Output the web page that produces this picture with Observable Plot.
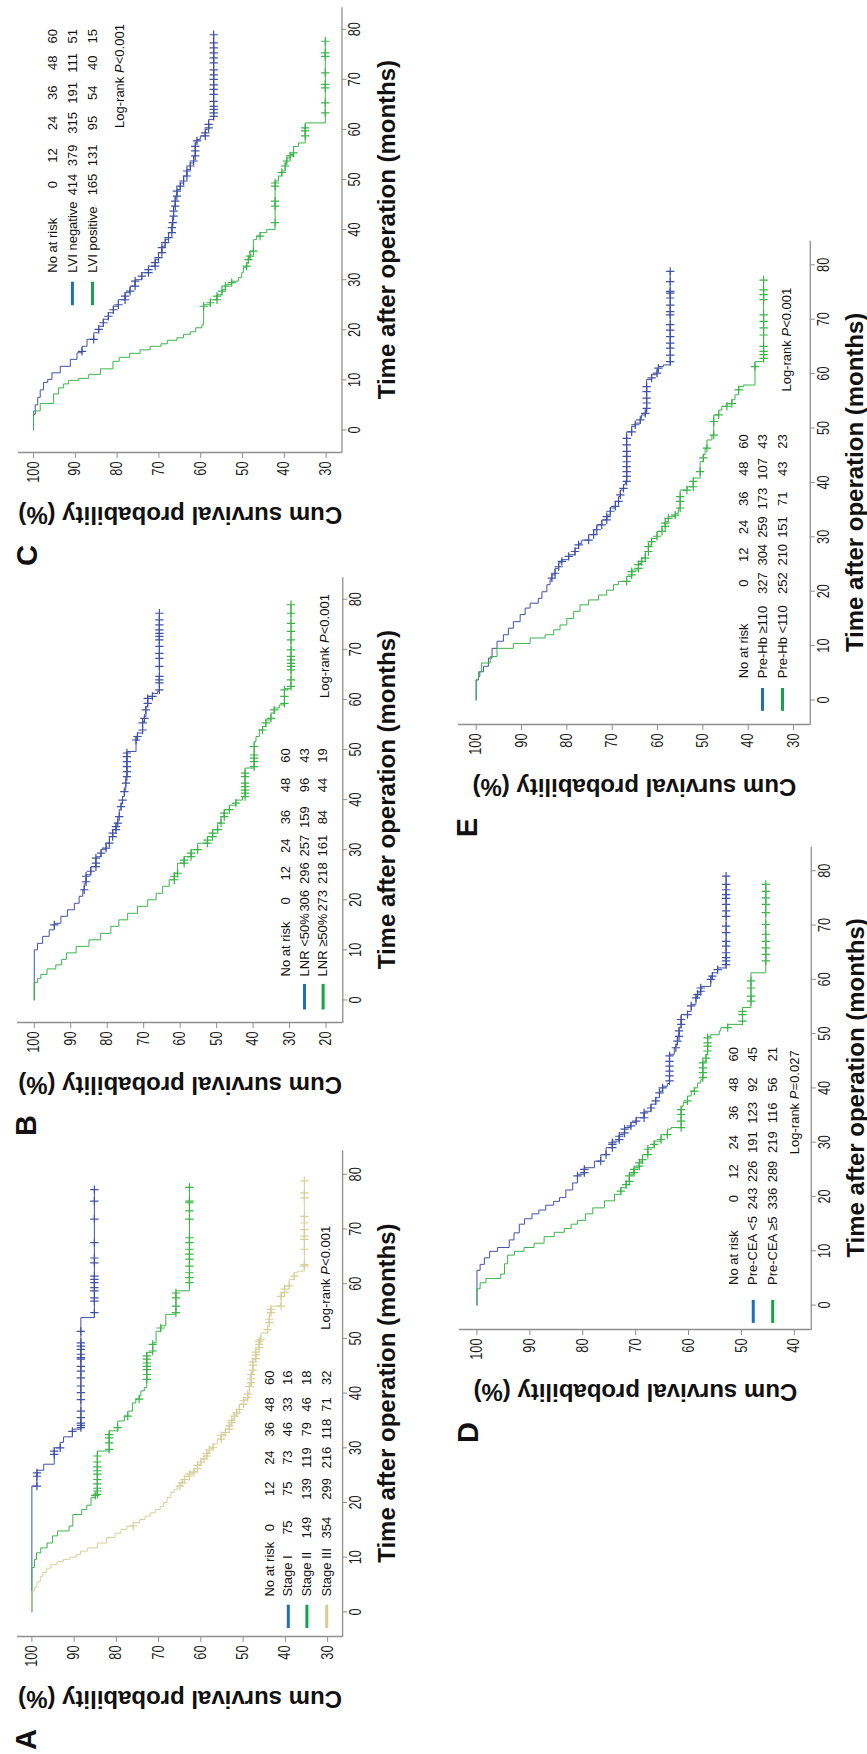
<!DOCTYPE html>
<html>
<head>
<meta charset="utf-8">
<script src="https://cdn.jsdelivr.net/npm/d3@7"></script>
<script src="https://cdn.jsdelivr.net/npm/@observablehq/plot@0.6"></script>
<style>
  html, body { margin: 0; padding: 0; background: #fff; }
  body { width: 867px; height: 1754px; overflow: hidden; position: relative; }
  /* the figure is laid out landscape and turned a quarter turn counter-clockwise */
  #sheet { position: absolute; left: 0; top: 0; width: 1754px; height: 867px;
           transform-origin: 0 0; transform: translate(0, 1754px) rotate(-90deg); }
  #sheet svg { position: absolute; overflow: visible; }
</style>
</head>
<body>
<div id="sheet"></div>
<script>
// ---------- shared axis ticks and number-at-risk months ----------
const monthTicks = [0, 10, 20, 30, 40, 50, 60, 70, 80];
const atRiskMonths = ["0", "12", "24", "36", "48", "60"];

// ---------- A: TNM stage ----------
const stageGroups = ["Stage I", "Stage II", "Stage III"];
const stageAtRisk = [[75, 75, 73, 46, 33, 16], [149, 139, 119, 79, 46, 18], [354, 299, 216, 118, 71, 32]];
const stageISteps = [[0,100],[23.0,98.8],[25.9,97.2],[27.0,94.7],[30.0,93.3],[31.0,92.5],[32.0,90.4],[33.4,88.4],[53.8,85.2],[77.2,85.2]];
const stageICensored = [23.0,24.8,25.4,28.8,29.4,30.0,33.0,33.7,34.1,34.5,35.5,36.7,38.8,40.1,41.3,42.8,44.0,44.9,46.2,46.5,47.1,48.0,48.6,49.2,51.3,54.7,56.8,57.4,58.7,59.3,60.2,60.8,61.4,63.8,64.7,67.5,71.8,75.1,77.2];
const stageIISteps = [[0,100],[8.1,99.4],[9.6,98.9],[10.8,97.9],[11.7,96.4],[12.6,95.1],[13.9,93.9],[14.8,91.2],[15.7,90.3],[17.8,88.2],[18.7,87.0],[19.5,86.0],[20.9,85.0],[21.5,84.5],[29.4,81.7],[33.1,79.7],[34.9,78.1],[35.8,77.3],[36.7,76.2],[38.2,75.4],[38.9,74.6],[39.5,74.2],[40.4,73.4],[41.0,72.8],[47.4,71.4],[49.2,70.6],[51.3,69.5],[52.3,68.3],[54.4,65.9],[58.7,62.7],[77.6,62.7]];
const stageIICensored = [21.3,21.5,22.1,22.6,23.4,24.2,25.2,25.8,26.5,27.4,28.5,29.7,30.9,31.8,32.4,33.7,35.8,38.9,42.5,43.4,44.3,44.9,45.5,46.2,46.8,47.7,48.9,51.9,54.7,55.9,57.4,58.3,60.2,61.1,62.0,63.2,64.5,65.4,66.3,67.5,68.4,71.8,73.3,74.8,75.1,77.6];
const stageIIISteps = [[0,100],[3.8,99.4],[4.5,98.8],[5.5,98.0],[6.5,97.4],[7.2,96.5],[8.0,95.5],[8.7,94.0],[9.2,92.5],[9.6,91.0],[10.0,89.5],[10.5,88.5],[11.1,86.8],[11.7,84.5],[12.6,82.3],[13.6,80.3],[14.4,78.9],[15.1,77.5],[15.7,76.0],[16.3,74.5],[16.9,73.2],[17.5,72.0],[18.1,70.8],[18.7,69.6],[19.3,68.8],[20.0,68.0],[20.9,67.1],[21.8,66.3],[22.4,65.6],[23.0,65.0],[23.6,64.4],[24.2,63.9],[24.8,62.7],[25.4,61.6],[26.2,60.8],[27.0,60.0],[27.9,59.2],[28.5,58.6],[29.1,58.0],[29.9,57.1],[30.7,56.1],[31.5,55.2],[32.4,54.2],[33.4,53.3],[34.3,52.7],[35.2,52.1],[36.1,51.5],[37.0,50.9],[37.9,49.9],[38.8,48.9],[40.0,48.5],[41.3,48.1],[43.7,47.7],[46.2,47.0],[48.0,46.2],[49.8,45.8],[51.0,44.2],[52.3,43.8],[54.7,43.4],[55.9,41.0],[58.3,40.2],[59.6,39.1],[60.8,37.9],[62.0,37.1],[62.3,35.5],[78.8,35.5]];
const stageIIICensored = [15.7,23.0,23.6,24.2,24.8,25.2,25.6,26.2,26.8,27.4,28.0,28.5,29.0,29.6,30.1,31.6,32.2,32.8,33.4,34.0,34.6,35.0,35.8,36.4,37.0,38.0,38.6,39.2,39.8,41.2,41.9,42.6,43.4,44.2,45.1,45.7,46.3,47.0,47.5,48.3,48.9,49.5,49.8,51.6,52.9,53.5,54.7,55.3,55.9,57.7,58.4,59.0,59.6,61.4,63.2,63.5,66.3,68.1,68.7,69.9,71.1,72.3,75.7,76.6,78.8];

// ---------- B: lymph node ratio ----------
const lnrGroups = ["LNR <50%", "LNR \u226550%"];
const lnrAtRisk = [[306, 296, 257, 159, 96, 43], [273, 218, 161, 84, 44, 19]];
const lnrLowSteps = [[0,100],[10.0,99.1],[11.3,97.7],[12.7,95.9],[14.0,94.5],[15.3,92.7],[16.7,90.9],[18.0,89.0],[19.3,87.7],[20.7,86.7],[22.0,86.3],[23.3,85.8],[25.0,84.5],[26.6,83.1],[28.6,81.7],[30.0,80.3],[31.3,79.4],[32.6,78.5],[34.0,77.6],[35.3,77.1],[36.6,76.7],[38.0,76.2],[39.3,75.8],[40.6,75.3],[41.9,74.9],[44.6,74.6],[49.6,72.1],[52.6,71.7],[53.3,70.3],[55.6,69.8],[56.6,69.4],[58.6,68.9],[60.6,67.6],[61.2,66.2],[61.6,65.7],[77.2,65.7]];
const lnrLowCensored = [15.0,22.0,23.6,24.7,25.7,26.6,27.3,28.3,29.3,30.3,31.3,32.6,33.3,34.0,34.6,35.3,36.6,38.6,39.9,41.6,43.3,44.6,45.6,46.6,47.6,48.6,49.3,51.9,52.6,53.9,55.3,56.2,57.9,59.2,60.2,60.6,61.9,63.3,63.9,64.6,66.6,68.2,69.2,70.6,71.9,72.6,73.2,73.9,74.9,75.9,77.2];
const lnrHighSteps = [[0,100],[3.5,99.1],[4.3,98.2],[5.1,96.5],[6.2,94.1],[7.0,92.5],[8.1,91.2],[9.4,88.5],[10.7,85.0],[12.0,81.8],[13.3,79.0],[14.7,76.8],[16.0,74.4],[17.3,71.7],[18.7,68.9],[20.0,66.6],[21.3,64.8],[22.7,63.0],[24.0,61.6],[25.3,60.7],[27.3,58.9],[28.6,57.0],[30.0,55.2],[31.3,52.5],[32.6,51.1],[34.0,49.7],[35.3,48.8],[36.6,47.9],[38.0,46.5],[38.9,44.7],[39.9,42.9],[40.6,42.2],[46.3,39.7],[51.6,39.2],[52.6,38.3],[53.9,37.4],[54.6,36.5],[55.9,35.1],[57.3,34.2],[58.3,32.8],[58.9,31.4],[62.2,29.6],[78.9,29.6]];
const lnrHighCensored = [24.0,24.7,25.3,27.3,27.9,28.6,29.3,30.0,31.3,31.9,32.6,33.3,34.0,35.3,36.6,37.3,38.0,39.3,40.6,41.3,41.9,42.6,43.3,44.6,45.3,46.6,47.6,48.3,48.9,50.6,53.9,55.3,56.2,57.9,59.2,60.6,61.9,62.6,63.9,65.9,66.6,67.2,67.9,68.6,69.9,71.9,73.6,75.2,77.2,78.9];

// ---------- C: lymphovascular invasion ----------
const lviGroups = ["LVI negative", "LVI positive"];
const lviAtRisk = [[414, 379, 315, 191, 111, 51], [165, 131, 95, 54, 40, 15]];
const lviNegSteps = [[0,100],[3.1,99.6],[5.0,99.0],[6.5,98.4],[8.0,97.6],[9.5,96.6],[10.1,95.6],[11.4,93.6],[12.7,91.2],[14.1,89.6],[15.4,88.4],[16.7,87.2],[18.1,85.6],[19.4,84.4],[20.7,83.3],[22.1,82.1],[23.4,80.9],[24.7,79.7],[26.0,78.1],[27.4,76.9],[28.7,75.7],[30.0,74.1],[31.4,72.5],[32.7,70.9],[34.0,70.1],[35.4,69.3],[36.7,68.5],[38.0,67.7],[39.4,66.9],[40.7,66.7],[42.7,66.5],[44.7,66.1],[46.7,65.7],[48.0,64.9],[49.3,64.1],[50.7,63.3],[52.0,62.5],[53.3,61.7],[54.7,61.3],[57.3,60.9],[58.0,60.1],[58.7,58.9],[60.0,58.1],[62.0,56.9],[78.9,56.9]];
const lviNegCensored = [15.7,18.1,20.1,21.4,22.7,24.0,25.0,26.0,26.7,27.7,28.7,29.7,30.7,31.4,32.0,32.7,33.4,34.4,35.4,36.4,37.4,38.4,39.4,40.4,41.4,42.7,43.7,44.7,45.7,46.7,47.7,48.7,49.7,50.7,51.7,52.7,53.7,54.7,55.7,56.6,57.7,58.7,59.3,60.3,61.0,62.6,63.3,64.0,64.6,65.6,67.0,68.0,68.9,70.0,70.9,71.9,73.3,74.3,75.3,76.3,77.3,78.9];
const lviPosSteps = [[0,100],[3.8,98.4],[5.3,95.2],[7.2,94.0],[8.4,92.8],[9.2,91.6],[9.9,89.2],[10.3,86.8],[11.1,84.0],[12.2,81.0],[13.7,79.5],[14.5,77.0],[15.3,74.5],[16.0,72.1],[16.7,69.5],[17.2,68.0],[17.9,65.7],[18.4,64.1],[19.1,62.5],[19.6,61.2],[20.4,59.7],[21.0,59.3],[25.0,57.7],[26.0,56.1],[27.0,54.9],[28.0,54.1],[29.0,52.6],[29.7,51.0],[30.4,50.2],[31.4,49.8],[32.4,49.0],[33.4,48.6],[34.4,48.2],[35.7,47.4],[38.0,46.6],[38.7,45.8],[39.4,44.2],[40.0,42.2],[49.7,41.4],[50.7,40.6],[51.7,39.8],[53.3,39.4],[54.3,38.6],[55.0,37.8],[56.6,36.6],[57.3,35.0],[61.3,30.2],[77.6,30.2]];
const lviPosCensored = [24.7,25.4,26.0,26.7,27.7,28.7,29.4,32.7,34.0,34.7,35.7,38.7,41.4,44.7,45.7,48.7,49.3,51.4,52.7,53.7,54.7,55.3,58.7,59.7,60.3,63.3,65.3,68.3,69.0,71.3,74.6,75.3,77.6];

// ---------- D: preoperative CEA ----------
const ceaGroups = ["Pre-CEA <5", "Pre-CEA \u22655"];
const ceaAtRisk = [[243, 226, 191, 123, 92, 45], [336, 289, 219, 116, 56, 21]];
const ceaLowSteps = [[0,100],[6.4,99.4],[7.5,98.6],[8.7,97.6],[9.9,96.1],[10.6,93.9],[12.0,93.0],[13.3,92.0],[14.9,91.0],[15.9,89.6],[16.8,88.3],[17.5,87.0],[18.4,85.5],[19.1,84.4],[19.8,83.2],[21.2,81.9],[22.5,81.0],[24.1,79.7],[25.3,77.8],[26.5,76.6],[27.7,75.6],[29.0,74.4],[30.2,73.1],[31.4,72.1],[32.7,70.9],[33.6,69.9],[34.5,68.4],[35.7,67.1],[37.0,66.2],[38.2,65.5],[39.4,64.9],[40.3,64.0],[40.8,63.6],[46.2,62.7],[47.4,62.4],[48.0,62.1],[49.5,61.8],[51.1,61.4],[53.5,60.2],[54.1,59.5],[55.4,58.6],[56.9,58.3],[57.5,57.7],[58.7,55.8],[60.3,55.5],[61.2,54.5],[62.1,52.9],[79.0,52.9]];
const ceaLowCensored = [23.8,24.4,25.0,26.5,27.7,29.0,29.6,29.9,30.5,31.1,31.7,32.4,33.0,33.9,34.5,35.4,36.3,37.6,39.1,40.0,41.3,42.2,43.1,44.0,44.9,45.9,47.4,48.6,49.5,50.5,51.7,52.6,53.5,55.1,56.6,57.2,57.8,58.4,60.0,60.6,61.8,62.7,63.4,64.0,64.9,66.1,67.0,68.6,69.8,71.6,72.6,73.8,74.9,75.6,76.5,77.5,79.0];
const ceaHighSteps = [[0,100],[3.0,99.4],[4.1,98.3],[4.9,95.5],[5.7,94.8],[7.6,94.2],[9.2,92.9],[9.9,91.1],[10.6,89.2],[11.4,87.3],[12.6,85.4],[13.4,83.5],[14.1,82.2],[14.9,81.0],[15.6,79.5],[16.8,78.1],[17.9,75.9],[19.2,74.0],[20.4,72.8],[21.6,71.8],[22.8,71.2],[24.1,70.3],[25.3,69.3],[26.5,68.7],[27.7,67.7],[29.0,66.5],[30.2,65.2],[31.4,64.0],[32.4,63.3],[32.7,61.4],[36.6,61.0],[37.3,60.2],[38.5,59.5],[39.4,58.9],[40.0,58.3],[40.9,57.7],[41.5,57.3],[44.9,56.7],[46.2,56.4],[49.5,55.8],[49.8,54.2],[50.5,53.9],[51.1,52.6],[51.7,49.8],[54.8,48.2],[61.2,45.4],[77.5,45.4]];
const ceaHighCensored = [21.0,22.2,22.8,23.8,24.4,25.0,25.6,26.2,26.8,27.7,28.7,29.6,30.5,31.4,32.7,33.9,35.1,36.0,37.6,39.4,41.9,42.8,43.7,44.6,45.5,46.8,47.7,48.3,49.2,51.1,52.3,53.5,54.1,56.0,56.9,58.4,59.7,63.4,64.6,65.8,67.0,68.3,70.1,72.3,73.8,75.0,76.2,77.5];

// ---------- E: preoperative haemoglobin ----------
const hbGroups = ["Pre-Hb \u2265110", "Pre-Hb <110"];
const hbAtRisk = [[327, 304, 259, 173, 107, 43], [252, 210, 151, 71, 43, 23]];
const hbHighSteps = [[0,100],[3.7,99.5],[4.3,99.2],[5.2,98.4],[6.2,97.3],[7.7,96.5],[9.5,95.4],[10.8,94.0],[12.0,92.9],[13.2,91.8],[14.4,90.3],[15.7,89.2],[16.9,88.1],[17.8,86.3],[18.7,85.5],[19.9,84.4],[21.2,83.7],[22.1,83.3],[23.0,82.6],[24.2,81.8],[25.2,81.1],[25.8,79.6],[26.7,78.2],[27.9,77.4],[28.8,76.7],[29.4,75.2],[30.4,74.1],[31.3,73.4],[32.2,72.3],[33.1,71.2],[34.0,70.4],[35.3,69.3],[36.5,68.6],[37.4,68.2],[38.6,67.5],[39.6,67.1],[40.2,66.8],[49.3,65.7],[50.3,64.9],[50.9,63.8],[51.8,63.5],[52.4,62.7],[53.0,62.4],[58.9,61.3],[59.8,60.1],[60.7,59.8],[61.3,58.7],[61.6,57.2],[78.8,57.2]];
const hbHighCensored = [22.4,23.3,24.5,25.5,26.4,27.3,28.5,29.4,30.4,31.3,32.2,33.1,33.7,34.7,35.6,36.5,37.7,38.9,40.2,41.1,42.0,42.9,43.8,44.8,45.7,46.9,48.1,49.3,50.6,51.5,52.7,53.6,54.6,55.5,56.7,57.6,59.2,60.1,61.0,62.2,63.4,64.7,65.6,66.8,68.0,69.0,70.8,71.4,72.6,73.9,74.8,75.1,76.9,78.8];
const hbLowSteps = [[0,100],[3.7,99.5],[5.2,98.8],[6.8,96.9],[8.0,95.4],[9.5,91.8],[10.4,88.1],[11.4,84.8],[12.0,82.9],[12.9,81.5],[13.8,80.0],[15.0,78.5],[16.3,77.1],[17.5,75.2],[18.4,73.0],[19.3,71.2],[20.2,69.7],[21.2,68.6],[21.8,66.8],[22.7,65.7],[23.9,64.2],[25.1,63.5],[26.1,62.7],[27.3,62.0],[28.5,61.3],[29.7,60.1],[31.0,59.0],[31.9,58.3],[32.8,57.6],[33.7,56.1],[34.3,55.4],[35.3,55.0],[38.6,53.5],[39.2,52.1],[40.8,50.6],[43.8,49.9],[45.1,49.5],[46.3,49.1],[47.8,48.0],[48.7,47.6],[52.4,46.5],[53.3,45.8],[54.0,44.7],[54.5,43.6],[55.2,42.9],[56.1,42.1],[57.6,41.0],[57.9,38.5],[62.2,36.6],[77.2,36.6]];
const hbLowCensored = [21.8,23.0,23.6,24.2,24.9,25.5,26.1,27.3,28.2,29.1,30.1,31.0,31.9,32.5,33.4,34.0,35.3,36.5,37.4,38.6,39.2,40.2,42.0,44.5,46.3,48.7,51.2,52.4,54.0,54.5,57.0,61.3,62.8,63.5,64.1,65.0,67.1,68.4,69.6,70.8,73.6,74.5,75.4,77.2];

// ---------- styling ----------
const FONT = "'Liberation Sans', Arial, Helvetica, sans-serif";
const AXIS_GRAY = "#8f8f8f";
const CURVE = { blue: "#3f52a6", green: "#3bb54a", tan: "#d7cf98" };
const SWATCH = { blue: "#1f6fbe", green: "#12a64c", tan: "#d5cd95" };
const X_DOMAIN = [-4.5, 84.5];

// Kaplan-Meier step value at time t
function survivalAt(steps, t) {
  let s = steps[0][1];
  for (const [tt, v] of steps) { if (tt <= t) s = v; else break; }
  return s;
}

const panels = [
  { letter: "A", frame: [116.9, 603.7, 16.6, 341.7], yDomain: [26.45, 103.4], yTicks: [30, 40, 50, 60, 70, 80, 90, 100],
    names: stageGroups, atRisk: stageAtRisk, pValue: "<0.001",
    curves: [
      { steps: stageISteps, censored: stageICensored, c: "blue" },
      { steps: stageIISteps, censored: stageIICensored, c: "green" },
      { steps: stageIIISteps, censored: stageIIICensored, c: "tan" }],
    table: { rows: [43.65, 39.3, 34.9, 30.2], cols: [15.4, 22.5, 28.2, 33.4, 37.9, 42.8], labelX: 2.8, swatch: [-2.85, 1.4], logrank: [51.6, 30.4] } },
  { letter: "B", frame: [731.3, 1177.1, 16.5, 341.8], yDomain: [15.4, 104.6], yTicks: [20, 30, 40, 50, 60, 70, 80, 90, 100],
    names: lnrGroups, atRisk: lnrAtRisk, pValue: "<0.001",
    curves: [
      { steps: lnrLowSteps, censored: lnrLowCensored, c: "blue" },
      { steps: lnrHighSteps, censored: lnrHighCensored, c: "green" }],
    table: { rows: [30.97, 25.9, 20.8], cols: [19.8, 25.3, 30.8, 36.5, 42.9, 48.8], labelX: 4.7, swatch: [-1.8, 3.3], logrank: [60.3, 20.2] } },
  { letter: "C", frame: [1301.0, 1746.8, 18.3, 341.8], yDomain: [26.2, 103.6], yTicks: [30, 40, 50, 60, 70, 80, 90, 100],
    names: lviGroups, atRisk: lviAtRisk, pValue: "<0.001",
    curves: [
      { steps: lviNegSteps, censored: lviNegCensored, c: "blue" },
      { steps: lviPosSteps, censored: lviPosCensored, c: "green" }],
    table: { rows: [95.45, 90.7, 85.9], cols: [49.0, 54.8, 61.3, 67.3, 73.3, 78.6], labelX: 31.4, swatch: [25.0, 29.7], logrank: [60.3, 79.3] } },
  { letter: "D", frame: [423.9, 907.1, 458.5, 810.3], yDomain: [36.8, 103.3], yTicks: [40, 50, 60, 70, 80, 90, 100],
    names: ceaGroups, atRisk: ceaAtRisk, pValue: "=0.027",
    curves: [
      { steps: ceaLowSteps, censored: ceaLowCensored, c: "blue" },
      { steps: ceaHighSteps, censored: ceaHighCensored, c: "green" }],
    table: { rows: [51.36, 47.77, 44.1], cols: [19.6, 24.6, 30.0, 35.4, 40.6, 46.2], labelX: 3.7, swatch: [-3.2, 1.05], logrank: [27.8, 39.9] } },
  { letter: "E", frame: [1029.3, 1513.5, 458.3, 810.1], yDomain: [26.3, 103.9], yTicks: [30, 40, 50, 60, 70, 80, 90, 100],
    names: hbGroups, atRisk: hbAtRisk, pValue: "<0.001",
    curves: [
      { steps: hbHighSteps, censored: hbHighCensored, c: "blue" },
      { steps: hbLowSteps, censored: hbLowCensored, c: "green" }],
    table: { rows: [40.88, 36.84, 32.43], cols: [21.5, 26.7, 31.8, 37.0, 42.5, 47.5], labelX: 4.0, swatch: [-1.9, 2.3], logrank: [56.7, 31.46] } }
];

const sheet = document.getElementById("sheet");
const mL = 124, mT = 14, mR = 8, mB = 66;

for (const p of panels) {
  const [uL, uR, vT, vB] = p.frame;
  const T = p.table;
  const marks = [
    // L-shaped axis frame
    Plot.ruleY([p.yDomain[0]], { stroke: AXIS_GRAY, strokeWidth: 1.3 }),
    Plot.ruleX([X_DOMAIN[0]], { stroke: AXIS_GRAY, strokeWidth: 1.3 }),
    Plot.axisX({ ticks: monthTicks, tickSize: 5, tickPadding: 2, stroke: AXIS_GRAY, fill: "#1a1a1a", fontSize: 16, label: null }),
    Plot.axisY({ ticks: p.yTicks, tickSize: 5, tickPadding: 4, stroke: AXIS_GRAY, fill: "#1a1a1a", fontSize: 16, label: null }),
    // axis titles and panel letter
    Plot.text(["Time after operation (months)"], { frameAnchor: "bottom", dy: 45, textAnchor: "middle", lineAnchor: "middle", fontSize: 24, fontWeight: "bold", fill: "#111" }),
    Plot.text(["Cum survival probability (%)"], { frameAnchor: "left", dx: -62, rotate: -90, textAnchor: "middle", lineAnchor: "middle", fontSize: 24, fontWeight: "bold", fill: "#111" }),
    Plot.text([p.letter], { frameAnchor: "top-left", dx: -103, dy: 9, textAnchor: "middle", lineAnchor: "middle", fontSize: 29, fontWeight: "bold", fill: "#111" })
  ];

  // survival curves with censoring marks
  for (const g of p.curves) {
    marks.push(Plot.line(g.steps, { x: d => d[0], y: d => d[1], curve: "step-after", stroke: CURVE[g.c], strokeWidth: 1 }));
    marks.push(Plot.dot(g.censored.map(t => [t, survivalAt(g.steps, t)]), { x: d => d[0], y: d => d[1], symbol: "plus", r: 2.8, stroke: CURVE[g.c], strokeWidth: 1.2 }));
  }

  // number-at-risk table with colour keys
  const cells = [];
  atRiskMonths.forEach((m, j) => cells.push({ x: T.cols[j], y: T.rows[0], text: m }));
  p.atRisk.forEach((row, i) => row.forEach((n, j) => cells.push({ x: T.cols[j], y: T.rows[i + 1], text: String(n) })));
  const labels = [{ y: T.rows[0], text: "No at risk" }, ...p.names.map((n, i) => ({ y: T.rows[i + 1], text: n }))];
  const keys = p.curves.map((g, i) => ({ y: T.rows[i + 1], c: SWATCH[g.c] }));
  marks.push(
    Plot.ruleY(keys, { y: "y", x1: T.swatch[0], x2: T.swatch[1], stroke: d => d.c, strokeWidth: 3 }),
    Plot.text(labels, { x: T.labelX, y: "y", text: "text", textAnchor: "start", lineAnchor: "middle", fontSize: 13, fill: "#111" }),
    Plot.text(cells, { x: "x", y: "y", text: "text", textAnchor: "middle", lineAnchor: "middle", fontSize: 13, fill: "#111" }),
    Plot.text(["Log-rank"], { x: T.logrank[0], y: T.logrank[1], textAnchor: "start", lineAnchor: "middle", fontSize: 13, fill: "#111" }),
    Plot.text(["P"], { x: T.logrank[0], y: T.logrank[1], dx: 55, textAnchor: "start", lineAnchor: "middle", fontSize: 13, fontStyle: "italic", fill: "#111" }),
    Plot.text([p.pValue], { x: T.logrank[0], y: T.logrank[1], dx: 63.7, textAnchor: "start", lineAnchor: "middle", fontSize: 13, fill: "#111" })
  );

  const svg = Plot.plot({
    width: (uR - uL) + mL + mR,
    height: (vB - vT) + mT + mB,
    marginLeft: mL, marginRight: mR, marginTop: mT, marginBottom: mB,
    x: { domain: X_DOMAIN },
    y: { domain: p.yDomain },
    style: { fontFamily: FONT, fontSize: "13px", color: "#111", background: "transparent", overflow: "visible" },
    marks
  });
  // tick numbers are set in a tall, condensed face
  svg.querySelectorAll('g[aria-label*="tick label"] text').forEach(t => {
    t.setAttribute("transform", (t.getAttribute("transform") || "") + " scale(0.8,1)");
  });
  svg.style.left = (uL - mL) + "px";
  svg.style.top = (vT - mT) + "px";
  sheet.appendChild(svg);
}
</script>
</body>
</html>
